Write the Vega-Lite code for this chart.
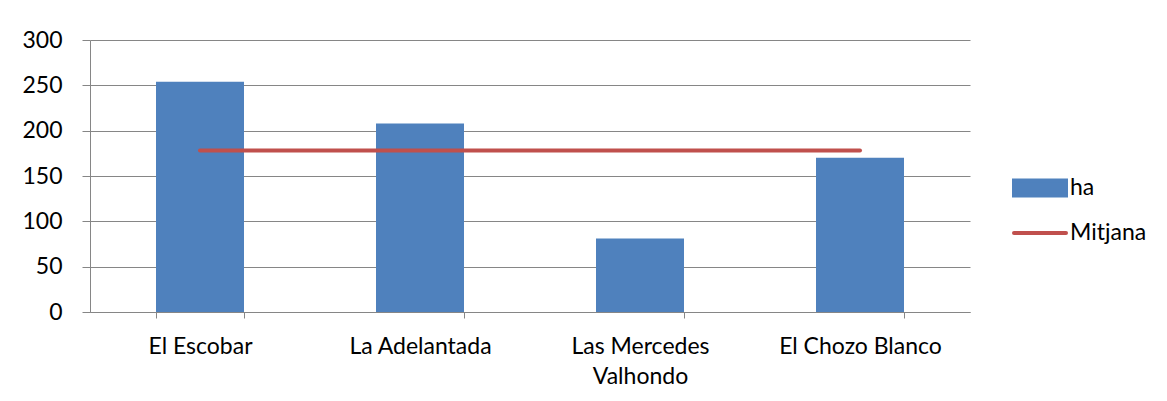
{
  "$schema": "https://vega.github.io/schema/vega-lite/v6.json",
  "width": 880,
  "height": 272,
  "autosize": {"type": "none"},
  "padding": {"left": 90, "top": 40, "right": 197, "bottom": 89},
  "background": "white",
  "config": {
    "view": {"stroke": null},
    "font": "Lato",
    "axis": {"labelFont": "Lato", "labelFontSize": 23, "labelColor": "#000000", "domainColor": "#868686", "tickColor": "#868686", "gridColor": "#868686", "domainWidth": 1, "tickWidth": 1, "gridWidth": 1}
  },
  "data": {
    "values": [
      {"finca": "El Escobar", "ha": 254, "mitjana": 178.25},
      {"finca": "La Adelantada", "ha": 208, "mitjana": 178.25},
      {"finca": "Las Mercedes Valhondo", "ha": 81, "mitjana": 178.25},
      {"finca": "El Chozo Blanco", "ha": 170, "mitjana": 178.25}
    ]
  },
  "encoding": {
    "x": {
      "field": "finca",
      "type": "nominal",
      "sort": null,
      "scale": {"paddingInner": 0.6, "paddingOuter": 0.3},
      "axis": {
        "title": null,
        "labelAngle": 0,
        "tickBand": "extent",
        "tickSize": 6,
        "labelPadding": 17,
        "labelLineHeight": 30,
        "labelExpr": "datum.label == 'Las Mercedes Valhondo' ? ['Las Mercedes', 'Valhondo'] : datum.label"
      }
    }
  },
  "layer": [
    {
      "mark": {"type": "bar", "color": "#4F81BD"},
      "encoding": {
        "y": {
          "field": "ha",
          "type": "quantitative",
          "scale": {"domain": [0, 300], "nice": false},
          "axis": {"title": null, "values": [0, 50, 100, 150, 200, 250, 300], "grid": true, "tickSize": 8, "labelPadding": 20}
        },
        "color": {
          "datum": "ha",
          "type": "nominal",
          "scale": {"domain": ["ha", "Mitjana"], "range": ["#4F81BD", "#C0504D"]},
          "legend": {
            "title": null,
            "orient": "none",
            "legendX": 935,
            "legendY": 133,
            "labelFont": "Lato",
            "labelFontSize": 23,
            "labelColor": "#000000",
            "labelOffset": 15,
            "rowPadding": 14,
            "symbolSize": 676,
            "encode": {
              "symbols": {
                "update": {
                  "shape": {"signal": "datum.value == 'ha' ? 'M-2,-0.57H2V0.57H-2Z' : 'M-2,0H2'"},
                  "fill": {"signal": "datum.value == 'ha' ? '#4F81BD' : 'transparent'"},
                  "stroke": {"signal": "datum.value == 'ha' ? 'transparent' : '#C0504D'"},
                  "strokeWidth": {"value": 4},
                  "strokeCap": {"value": "round"},
                  "opacity": {"value": 1}
                }
              }
            }
          }
        }
      }
    },
    {
      "mark": {"type": "line", "strokeWidth": 4, "strokeCap": "round", "color": "#C0504D"},
      "encoding": {
        "y": {"field": "mitjana", "type": "quantitative"},
        "color": {"datum": "Mitjana", "type": "nominal"}
      }
    }
  ]
}
